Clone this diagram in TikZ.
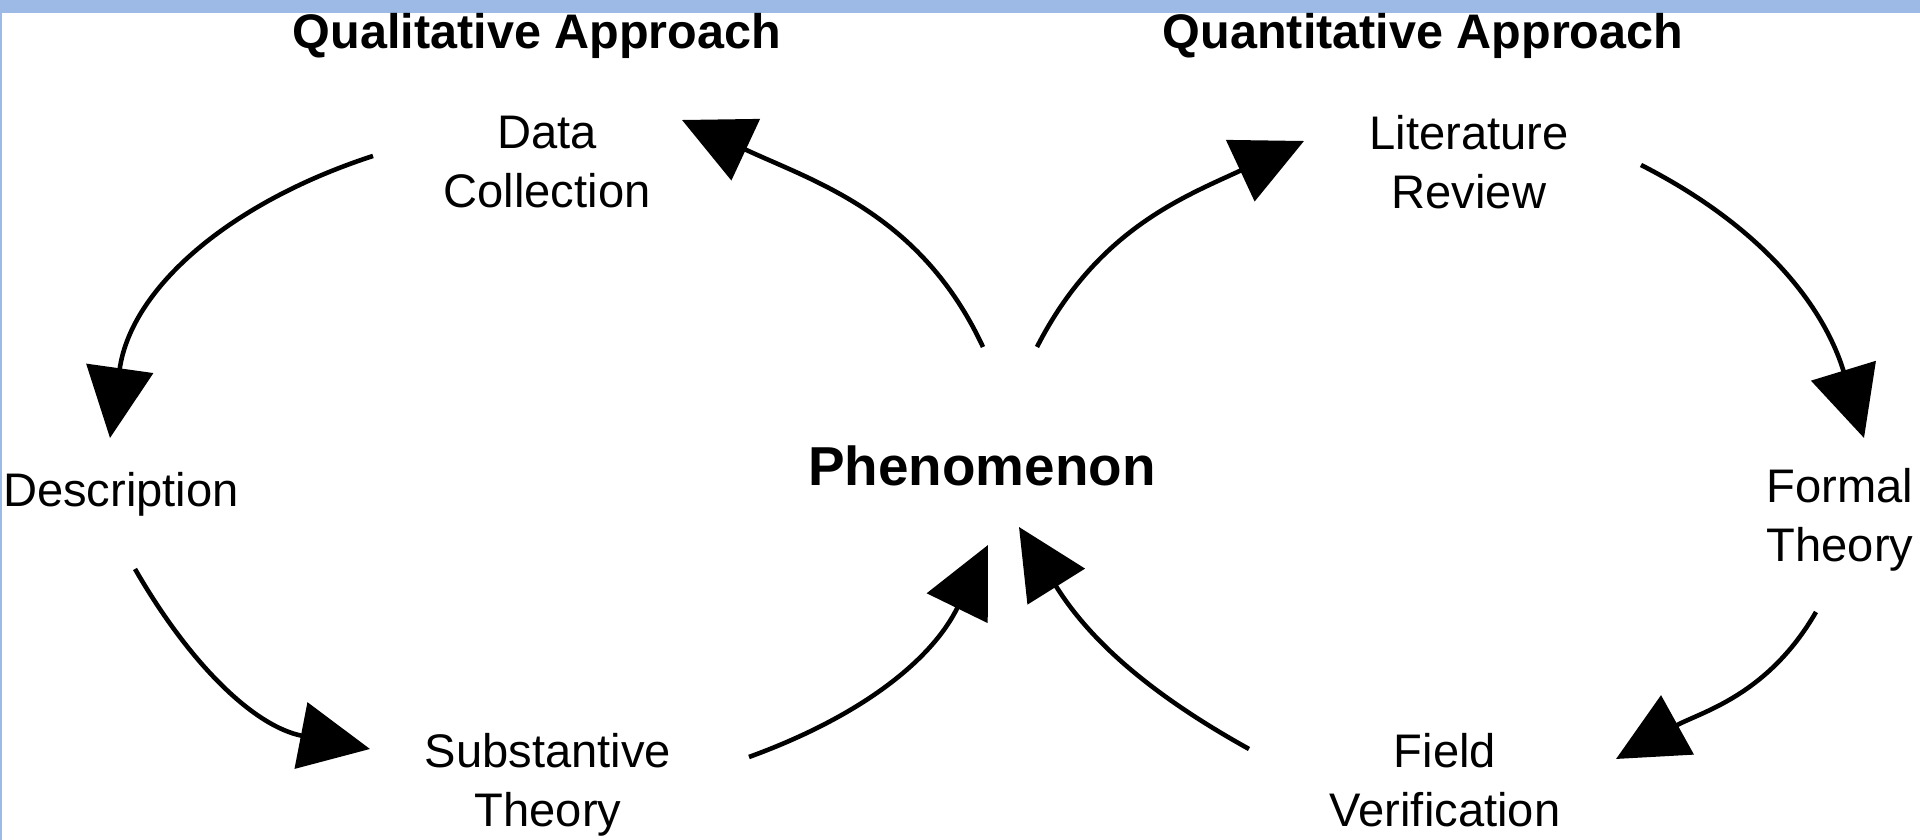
\documentclass[tikz,border=0pt]{standalone}
\usepackage{fontspec}
\setmainfont{Liberation Sans}
\usetikzlibrary{arrows.meta,calc}
\definecolor{barblue}{HTML}{9DB9E5}
\tikzset{x=0.01cm, y=0.01cm,
  stage/.style={align=center, inner sep=0pt, font=\fontsize{13.4}{16.6}\selectfont},
  heading/.style={inner sep=0pt, font=\fontsize{13.8}{16}\selectfont\bfseries},
  centre/.style={inner sep=0pt, font=\fontsize{15.6}{18}\selectfont\bfseries},
  flow/.style={line width=1.3pt, -{Triangle[length=20pt,width=19pt]}}}

\begin{document}
\begin{tikzpicture}

             \useasboundingbox (0,0) rectangle (1920,840);
             \fill[barblue] (0,827) rectangle (1920,840);
             \fill[barblue] (0,0) rectangle (2,840);

             \node (qual) [heading] at (537,804) {Qualitative Approach};
             \node (quant) [heading] at (1423,804) {Quantitative Approach};

             \node (ph) [centre] at (982,374) {Phenomenon};

             \node (dc) [stage] at (547,678) {Data\\Collection};
             \node (desc) [stage] at (121,346) {Description};
             \node (st) [stage] at (548,55) {Substantive\\Theory};

             \node (lr) [stage] at (1469,678) {Literature\\Review};
             \node (ft) [stage] at (1840,320) {Formal\\Theory};
             \node (fv) [stage] at (1445,60) {Field\\Verification};

             % left loop
             \draw [flow] ($(dc)+(-174,6)$) to[out=198,in=82] ($(desc)+(-11,56)$);
             \draw [flow] ($(desc)+(14,-75)$) to[out=300,in=169] ($(st)+(-178,36)$);
             \draw [flow] ($(st)+(201,28)$) to[out=20,in=244] ($(ph)+(6,-79)$);
             \draw [flow] ($(ph)+(1,119)$) to[out=115,in=335] ($(dc)+(135,42)$);

             % right loop
             \draw [flow] ($(ph)+(55,119)$) to[out=63,in=205] ($(lr)+(-165,21)$);
             \draw [flow] ($(lr)+(172,-3)$) to[out=333,in=107] ($(ft)+(24,82)$);
             \draw [flow] ($(ft)+(-24,-92)$) to[out=240,in=29] ($(fv)+(171,21)$);
             \draw [flow] ($(fv)+(-196,31)$) to[out=151,in=302] ($(ph)+(37,-61)$);
          \end{tikzpicture}
\end{document}
